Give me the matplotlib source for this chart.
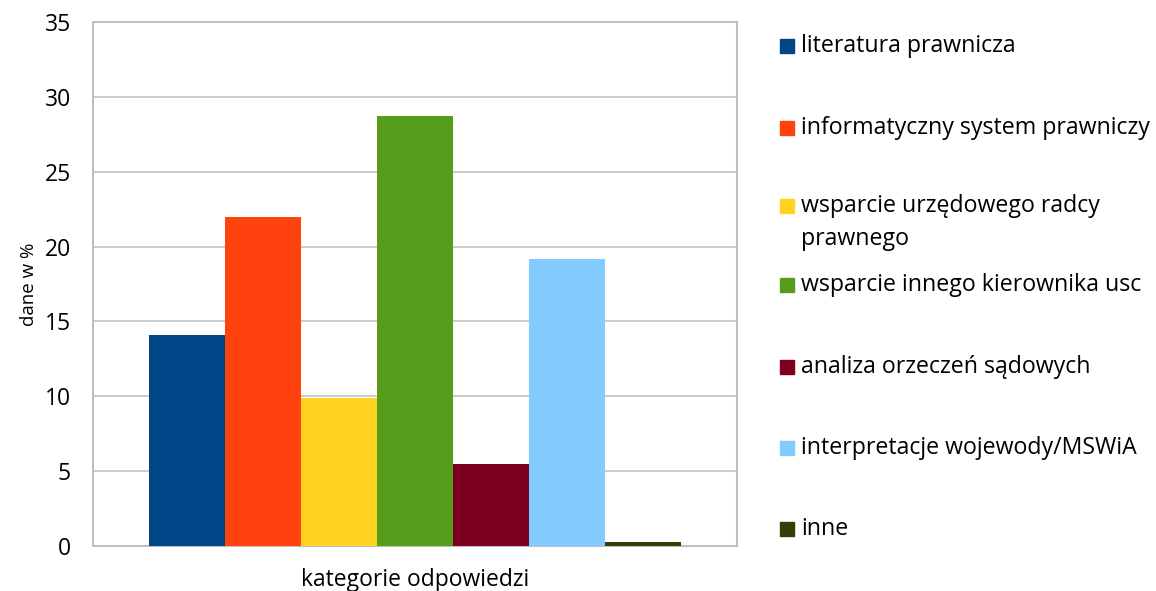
import matplotlib
matplotlib.use("Agg")
import matplotlib.pyplot as plt
from matplotlib.patches import Rectangle

# categories / values
categories = ["literatura prawnicza", "informatyczny system prawniczy",
              "wsparcie urzędowego radcy\nprawnego", "wsparcie innego kierownika usc",
              "analiza orzeczeń sądowych", "interpretacje wojewody/MSWiA", "inne"]
values = [14.1, 22.0, 9.9, 28.7, 5.5, 19.2, 0.3]
colors = ["#004586", "#ff420e", "#ffd320", "#579d1c", "#7e0021", "#83caff", "#314004"]
yticks = [0, 5, 10, 15, 20, 25, 30, 35]

plt.rcParams['font.family'] = ['Open Sans', 'DejaVu Sans']

W, H = 1156, 591
fig = plt.figure(figsize=(W / 100, H / 100), dpi=100)
ax = fig.add_axes([93 / W, 45 / H, 644 / W, 524 / H])

bw = 76 / 644
n = len(values)
for i, (v, c) in enumerate(zip(values, colors)):
    ax.bar((i - (n - 1) / 2) * bw, v, width=bw, color=c, zorder=3)

ax.set_xlim(-0.5, 0.5)
ax.set_ylim(0, 35)
ax.set_yticks(yticks)
ax.set_xticks([])
ax.grid(axis='y', color='#c8c8c8', linewidth=1.3, zorder=0)
for s in ax.spines.values():
    s.set_color('#c0c0c0')
    s.set_linewidth(1.5)
ax.tick_params(axis='y', length=0, pad=16, labelsize=16.5, labelcolor='black')
ax.set_ylabel("dane w %", fontsize=13.5, labelpad=5)
ax.set_xlabel("kategorie odpowiedzi", fontsize=16.5, labelpad=16)

# legend drawn entry by entry, Excel-style spacing
ys = [46, 128, 206, 285, 367, 448, 529]
for lab, c, y in zip(categories, colors, ys):
    fig.patches.append(Rectangle((780 / W, 1 - (y + 7) / H), 14 / W, 14 / H,
                                 transform=fig.transFigure, color=c))
    for k, line in enumerate(lab.split("\n")):
        fig.text(801 / W, 1 - (y + 33 * k) / H, line, fontsize=16.7,
                 va='center', ha='left')

fig.savefig("out.png", dpi=100)
